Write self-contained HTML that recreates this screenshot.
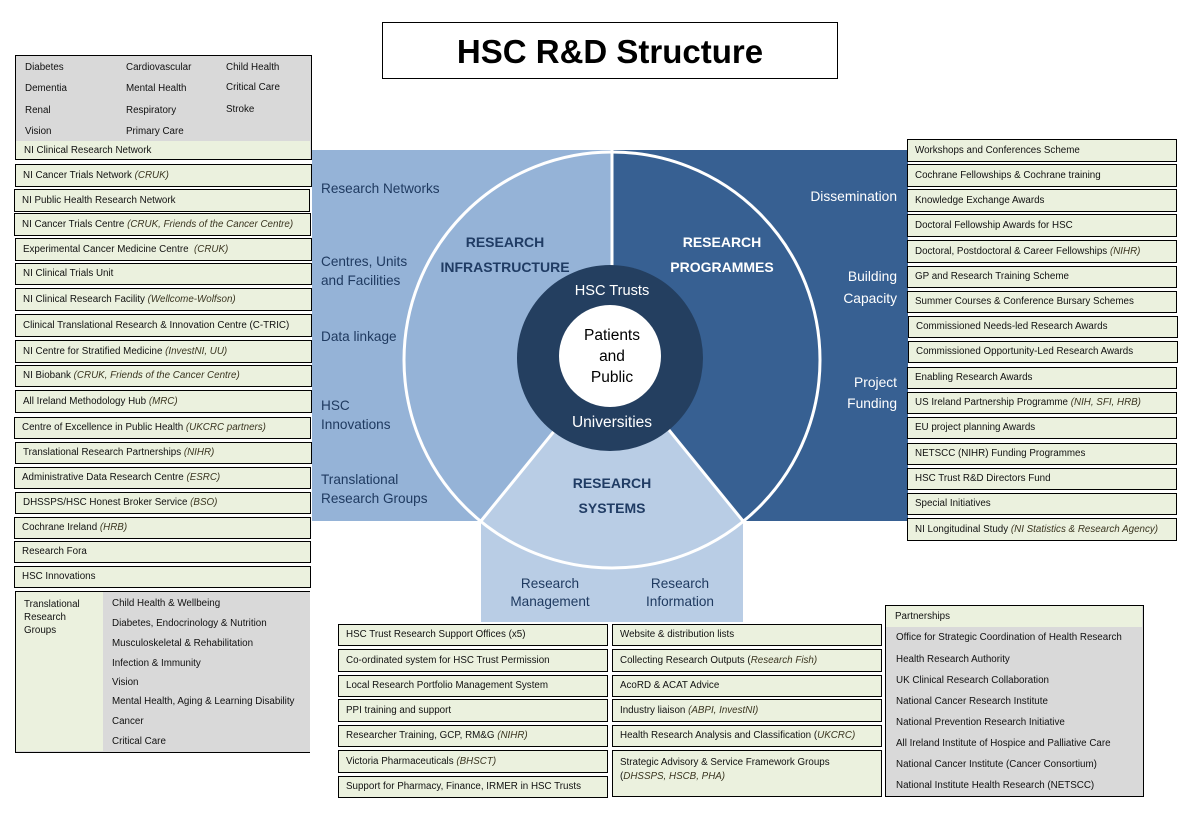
<!DOCTYPE html>
<html>
<head>
<meta charset="utf-8">
<style>
  html,body{margin:0;padding:0;background:#fff;}
  body{width:1195px;height:816px;position:relative;overflow:hidden;font-family:"Liberation Sans",Arial,sans-serif;color:#111;}
  .abs{position:absolute;}
  .box{position:absolute;box-sizing:border-box;background:#ebf1de;border:1.5px solid #000;font-size:9.8px;line-height:12px;white-space:nowrap;padding-left:7px;display:flex;align-items:center;color:#111;}
  .box > span{display:block;}
  i{color:#3a3520;}
  .t{position:absolute;font-size:9.8px;line-height:12px;white-space:nowrap;color:#111;}
  .lbl{position:absolute;font-size:13.6px;line-height:19px;white-space:nowrap;color:#1f3a60;}
  .rl{position:absolute;left:690px;width:207px;text-align:right;font-size:13.8px;color:#fff;white-space:nowrap;}
  .ctr{position:absolute;text-align:center;white-space:nowrap;}
</style>
</head>
<body>

<!-- Title -->
<div class="abs" style="left:382px;top:22px;width:456px;height:57px;box-sizing:border-box;border:1.5px solid #000;display:flex;align-items:center;justify-content:center;font-weight:bold;font-size:33px;color:#000;padding-top:2px;">HSC R&amp;D Structure</div>

<!-- Central graphic -->
<svg class="abs" style="left:0;top:0" width="1195" height="816" viewBox="0 0 1195 816">
  <rect x="312" y="150" width="300" height="371" fill="#95b3d7"/>
  <rect x="612" y="150" width="296" height="371" fill="#376092"/>
  <rect x="481" y="521" width="262" height="101" fill="#b9cde5"/>
  <path d="M612 360 L481 521 A208 208 0 0 0 743 521 Z" fill="#b9cde5"/>
  <circle cx="612" cy="360" r="208" fill="none" stroke="#fff" stroke-width="3"/>
  <line x1="612" y1="150" x2="612" y2="360" stroke="#fff" stroke-width="3"/>
  <line x1="612" y1="360" x2="481" y2="521" stroke="#fff" stroke-width="3"/>
  <line x1="612" y1="360" x2="743" y2="521" stroke="#fff" stroke-width="3"/>
  <circle cx="610" cy="358" r="93" fill="#243f60"/>
  <circle cx="610" cy="356" r="51" fill="#fff"/>
</svg>

<!-- Circle texts -->
<div class="ctr" style="left:405px;width:200px;top:229.5px;font-size:14px;line-height:25px;font-weight:bold;color:#203c64;">RESEARCH<br>INFRASTRUCTURE</div>
<div class="ctr" style="left:622px;width:200px;top:229.5px;font-size:14px;line-height:25px;font-weight:bold;color:#fff;">RESEARCH<br>PROGRAMMES</div>
<div class="ctr" style="left:512px;width:200px;top:470.5px;font-size:14px;line-height:25px;font-weight:bold;color:#203c64;">RESEARCH<br>SYSTEMS</div>
<div class="ctr" style="left:512px;width:200px;top:281px;font-size:14.6px;line-height:20px;color:#fff;">HSC Trusts</div>
<div class="ctr" style="left:512px;width:200px;top:324.5px;font-size:15.5px;line-height:21px;color:#000;">Patients<br>and<br>Public</div>
<div class="ctr" style="left:512px;width:200px;top:413px;font-size:15.5px;line-height:20px;color:#fff;">Universities</div>

<!-- Left region labels -->
<div class="lbl" style="left:321px;top:178.5px;">Research Networks</div>
<div class="lbl" style="left:321px;top:251.5px;">Centres, Units<br>and Facilities</div>
<div class="lbl" style="left:321px;top:326.5px;">Data linkage</div>
<div class="lbl" style="left:321px;top:395.5px;">HSC<br>Innovations</div>
<div class="lbl" style="left:321px;top:469.5px;">Translational<br>Research Groups</div>

<!-- Right region labels -->
<div class="rl" style="top:186.5px;line-height:19px;">Dissemination</div>
<div class="rl" style="top:266px;line-height:22px;">Building<br>Capacity</div>
<div class="rl" style="top:371.5px;line-height:21px;">Project<br>Funding</div>

<!-- Bottom region labels -->
<div class="ctr" style="left:480px;width:140px;top:575px;font-size:13.6px;line-height:18px;color:#1f3a60;">Research<br>Management</div>
<div class="ctr" style="left:610px;width:140px;top:575px;font-size:13.6px;line-height:18px;color:#1f3a60;">Research<br>Information</div>

<!-- Top-left grid box -->
<div class="abs" style="left:15px;top:55px;width:297px;height:105px;box-sizing:border-box;border:1.5px solid #000;background:#d9d9d9;">
  <div class="abs" style="left:0;top:84.5px;width:294px;height:18px;background:#ebf1de;"></div>
</div>
<div class="t" style="left:25px;top:62px;">Diabetes</div>
<div class="t" style="left:126px;top:62px;">Cardiovascular</div>
<div class="t" style="left:226px;top:62px;">Child Health</div>
<div class="t" style="left:25px;top:83px;">Dementia</div>
<div class="t" style="left:126px;top:83px;">Mental Health</div>
<div class="t" style="left:226px;top:82px;">Critical Care</div>
<div class="t" style="left:25px;top:105px;">Renal</div>
<div class="t" style="left:126px;top:105px;">Respiratory</div>
<div class="t" style="left:226px;top:104px;">Stroke</div>
<div class="t" style="left:25px;top:126px;">Vision</div>
<div class="t" style="left:126px;top:126px;">Primary Care</div>
<div class="t" style="left:24px;top:145px;">NI Clinical Research Network</div>

<!-- Left list boxes -->
<div class="box" style="left:15px;top:164px;width:297px;height:23px;"><span>NI Cancer Trials Network <i>(CRUK)</i></span></div>
<div class="box" style="left:14px;top:189px;width:296px;height:23px;"><span>NI Public Health Research Network</span></div>
<div class="box" style="left:14px;top:213px;width:297px;height:23px;"><span>NI Cancer Trials Centre <i>(CRUK, Friends of the Cancer Centre)</i></span></div>
<div class="box" style="left:15px;top:238px;width:297px;height:23px;"><span>Experimental Cancer Medicine Centre&nbsp; <i>(CRUK)</i></span></div>
<div class="box" style="left:15px;top:263px;width:297px;height:22px;"><span>NI Clinical Trials Unit</span></div>
<div class="box" style="left:15px;top:288px;width:297px;height:23px;"><span>NI Clinical Research Facility <i>(Wellcome-Wolfson)</i></span></div>
<div class="box" style="left:15px;top:314px;width:297px;height:23px;"><span>Clinical Translational Research &amp; Innovation Centre (C-TRIC)</span></div>
<div class="box" style="left:15px;top:340px;width:297px;height:23px;"><span>NI Centre for Stratified Medicine <i>(InvestNI, UU)</i></span></div>
<div class="box" style="left:15px;top:365px;width:297px;height:22px;"><span>NI Biobank <i>(CRUK, Friends of the Cancer Centre)</i></span></div>
<div class="box" style="left:15px;top:390px;width:297px;height:23px;"><span>All Ireland Methodology Hub <i>(MRC)</i></span></div>
<div class="box" style="left:14px;top:417px;width:297px;height:22px;"><span>Centre of Excellence in Public Health <i>(UKCRC partners)</i></span></div>
<div class="box" style="left:15px;top:442px;width:297px;height:22px;"><span>Translational Research Partnerships <i>(NIHR)</i></span></div>
<div class="box" style="left:14px;top:467px;width:297px;height:22px;"><span>Administrative Data Research Centre <i>(ESRC)</i></span></div>
<div class="box" style="left:15px;top:492px;width:296px;height:22px;"><span>DHSSPS/HSC Honest Broker Service <i>(BSO)</i></span></div>
<div class="box" style="left:14px;top:517px;width:297px;height:22px;"><span>Cochrane Ireland <i>(HRB)</i></span></div>
<div class="box" style="left:14px;top:541px;width:297px;height:22px;"><span>Research Fora</span></div>
<div class="box" style="left:14px;top:566px;width:297px;height:22px;"><span>HSC Innovations</span></div>

<!-- Bottom-left Translational Research Groups box -->
<div class="abs" style="left:15px;top:591px;width:295px;height:162px;box-sizing:border-box;border:1.5px solid #000;border-right:none;background:#d9d9d9;">
  <div class="abs" style="left:0;top:0;width:87px;height:159px;background:#ebf1de;"></div>
</div>
<div class="t" style="left:24px;top:598px;line-height:13px;">Translational<br>Research<br>Groups</div>
<div class="t" style="left:112px;top:598px;">Child Health &amp; Wellbeing</div>
<div class="t" style="left:112px;top:618px;">Diabetes, Endocrinology &amp; Nutrition</div>
<div class="t" style="left:112px;top:638px;">Musculoskeletal &amp; Rehabilitation</div>
<div class="t" style="left:112px;top:658px;">Infection &amp; Immunity</div>
<div class="t" style="left:112px;top:677px;">Vision</div>
<div class="t" style="left:112px;top:696px;">Mental Health, Aging &amp; Learning Disability</div>
<div class="t" style="left:112px;top:716px;">Cancer</div>
<div class="t" style="left:112px;top:736px;">Critical Care</div>

<!-- Right list boxes -->
<div class="box" style="left:907px;top:139px;width:270px;height:23px;"><span>Workshops and Conferences Scheme</span></div>
<div class="box" style="left:907px;top:164px;width:270px;height:23px;"><span>Cochrane Fellowships &amp; Cochrane training</span></div>
<div class="box" style="left:907px;top:189px;width:270px;height:23px;"><span>Knowledge Exchange Awards</span></div>
<div class="box" style="left:907px;top:214px;width:270px;height:23px;"><span>Doctoral Fellowship Awards for HSC</span></div>
<div class="box" style="left:907px;top:240px;width:270px;height:23px;"><span>Doctoral, Postdoctoral &amp; Career Fellowships <i>(NIHR)</i></span></div>
<div class="box" style="left:907px;top:266px;width:270px;height:22px;"><span>GP and Research Training Scheme</span></div>
<div class="box" style="left:907px;top:291px;width:270px;height:22px;"><span>Summer Courses &amp; Conference Bursary Schemes</span></div>
<div class="box" style="left:908px;top:316px;width:270px;height:22px;"><span>Commissioned Needs-led Research Awards</span></div>
<div class="box" style="left:908px;top:341px;width:270px;height:22px;"><span>Commissioned Opportunity-Led Research Awards</span></div>
<div class="box" style="left:907px;top:367px;width:270px;height:22px;"><span>Enabling Research Awards</span></div>
<div class="box" style="left:907px;top:392px;width:270px;height:22px;"><span>US Ireland Partnership Programme <i>(NIH, SFI, HRB)</i></span></div>
<div class="box" style="left:907px;top:417px;width:270px;height:22px;"><span>EU project planning Awards</span></div>
<div class="box" style="left:907px;top:443px;width:270px;height:22px;"><span>NETSCC (NIHR) Funding Programmes</span></div>
<div class="box" style="left:907px;top:468px;width:270px;height:22px;"><span>HSC Trust R&amp;D Directors Fund</span></div>
<div class="box" style="left:907px;top:493px;width:270px;height:22px;"><span>Special Initiatives</span></div>
<div class="box" style="left:907px;top:518px;width:270px;height:23px;"><span>NI Longitudinal Study <i>(NI Statistics &amp; Research Agency)</i></span></div>

<!-- Bottom middle left column -->
<div class="box" style="left:338px;top:624px;width:270px;height:22px;"><span>HSC Trust Research Support Offices (x5)</span></div>
<div class="box" style="left:338px;top:649px;width:270px;height:23px;"><span>Co-ordinated system for HSC Trust Permission</span></div>
<div class="box" style="left:338px;top:675px;width:270px;height:22px;"><span>Local Research Portfolio Management System</span></div>
<div class="box" style="left:338px;top:699px;width:270px;height:23px;"><span>PPI training and support</span></div>
<div class="box" style="left:338px;top:725px;width:270px;height:22px;"><span>Researcher Training, GCP, RM&amp;G <i>(NIHR)</i></span></div>
<div class="box" style="left:338px;top:750px;width:270px;height:23px;"><span>Victoria Pharmaceuticals <i>(BHSCT)</i></span></div>
<div class="box" style="left:338px;top:776px;width:270px;height:22px;"><span>Support for Pharmacy, Finance, IRMER in HSC Trusts</span></div>

<!-- Bottom middle right column -->
<div class="box" style="left:612px;top:624px;width:270px;height:22px;"><span>Website &amp; distribution lists</span></div>
<div class="box" style="left:612px;top:649px;width:270px;height:23px;"><span>Collecting Research Outputs (<i>Research Fish)</i></span></div>
<div class="box" style="left:612px;top:675px;width:270px;height:22px;"><span>AcoRD &amp; ACAT Advice</span></div>
<div class="box" style="left:612px;top:699px;width:270px;height:23px;"><span>Industry liaison <i>(ABPI, InvestNI)</i></span></div>
<div class="box" style="left:612px;top:725px;width:270px;height:22px;"><span>Health Research Analysis and Classification (<i>UKCRC)</i></span></div>
<div class="box" style="left:612px;top:750px;width:270px;height:47px;align-items:flex-start;padding-top:5px;line-height:14px;"><span>Strategic Advisory &amp; Service Framework Groups<br>(<i>DHSSPS, HSCB, PHA)</i></span></div>

<!-- Partnerships -->
<div class="abs" style="left:885px;top:605px;width:259px;height:192px;box-sizing:border-box;border:1.5px solid #000;background:#d9d9d9;">
  <div class="abs" style="left:0;top:0;width:256px;height:21px;background:#ebf1de;"></div>
</div>
<div class="t" style="left:895px;top:611px;">Partnerships</div>
<div class="t" style="left:896px;top:632px;">Office for Strategic Coordination of Health Research</div>
<div class="t" style="left:896px;top:654px;">Health Research Authority</div>
<div class="t" style="left:896px;top:675px;">UK Clinical Research Collaboration</div>
<div class="t" style="left:896px;top:696px;">National Cancer Research Institute</div>
<div class="t" style="left:896px;top:717px;">National Prevention Research Initiative</div>
<div class="t" style="left:896px;top:738px;">All Ireland Institute of Hospice and Palliative Care</div>
<div class="t" style="left:896px;top:759px;">National Cancer Institute (Cancer Consortium)</div>
<div class="t" style="left:896px;top:780px;">National Institute Health Research (NETSCC)</div>

</body>
</html>
